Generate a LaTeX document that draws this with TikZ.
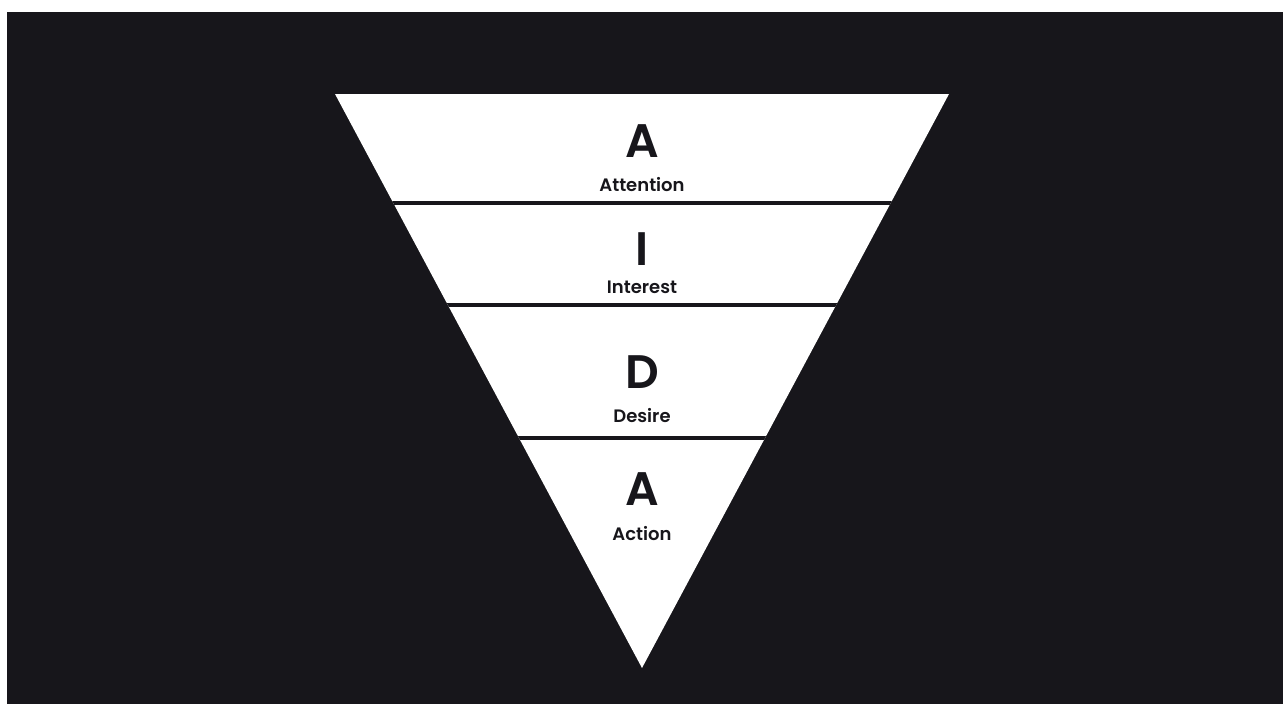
\documentclass[tikz,border=0pt]{standalone}
\usepackage{fontspec}
\setmainfont{Poppins}[BoldFont={Poppins SemiBold}]
\usepackage{xcolor}
\usetikzlibrary{positioning}
\definecolor{night}{HTML}{17161B}

\begin{document}
\begin{tikzpicture}[x=1pt,y=-1pt,
  letter/.style={anchor=base,text=night,font=\fontsize{47}{47}\selectfont\bfseries,inner sep=0pt},
  stage/.style={anchor=base,text=night,font=\fontsize{18}{18}\selectfont\bfseries,inner sep=0pt},
  cut/.style={draw=night,line width=4pt}]
  \useasboundingbox (0,0) rectangle (1283,704);
  \fill[white] (0,0) rectangle (1283,704);
  \fill[night] (7,12) rectangle (1283,704);
  % the funnel
  \coordinate (tl) at (335,94);
  \coordinate (tr) at (949,94);
  \coordinate (tip) at (642,668);
  \fill[white] (tl) -- (tr) -- (tip) -- cycle;
  \begin{scope}
    \clip (tl) -- (tr) -- (tip) -- cycle;
    \draw[cut] (300,203) -- (1000,203);
    \draw[cut] (300,304.5) -- (1000,304.5);
    \draw[cut] (300,438) -- (1000,438);
  \end{scope}
  % labels
  \node[letter] (a1) at (642,157) {A};
  \node[stage] (att) at (642,191) {Attention};
  \node[letter] (i) at (642,265) {I};
  \node[stage] (int) at (642,293) {Interest};
  \node[letter] (d) at (642,388) {D};
  \node[stage] (des) at (642,422) {Desire};
  \node[letter] (a2) at (642,505) {A};
  \node[stage] (act) at (642,540) {Action};
\end{tikzpicture}
\end{document}
